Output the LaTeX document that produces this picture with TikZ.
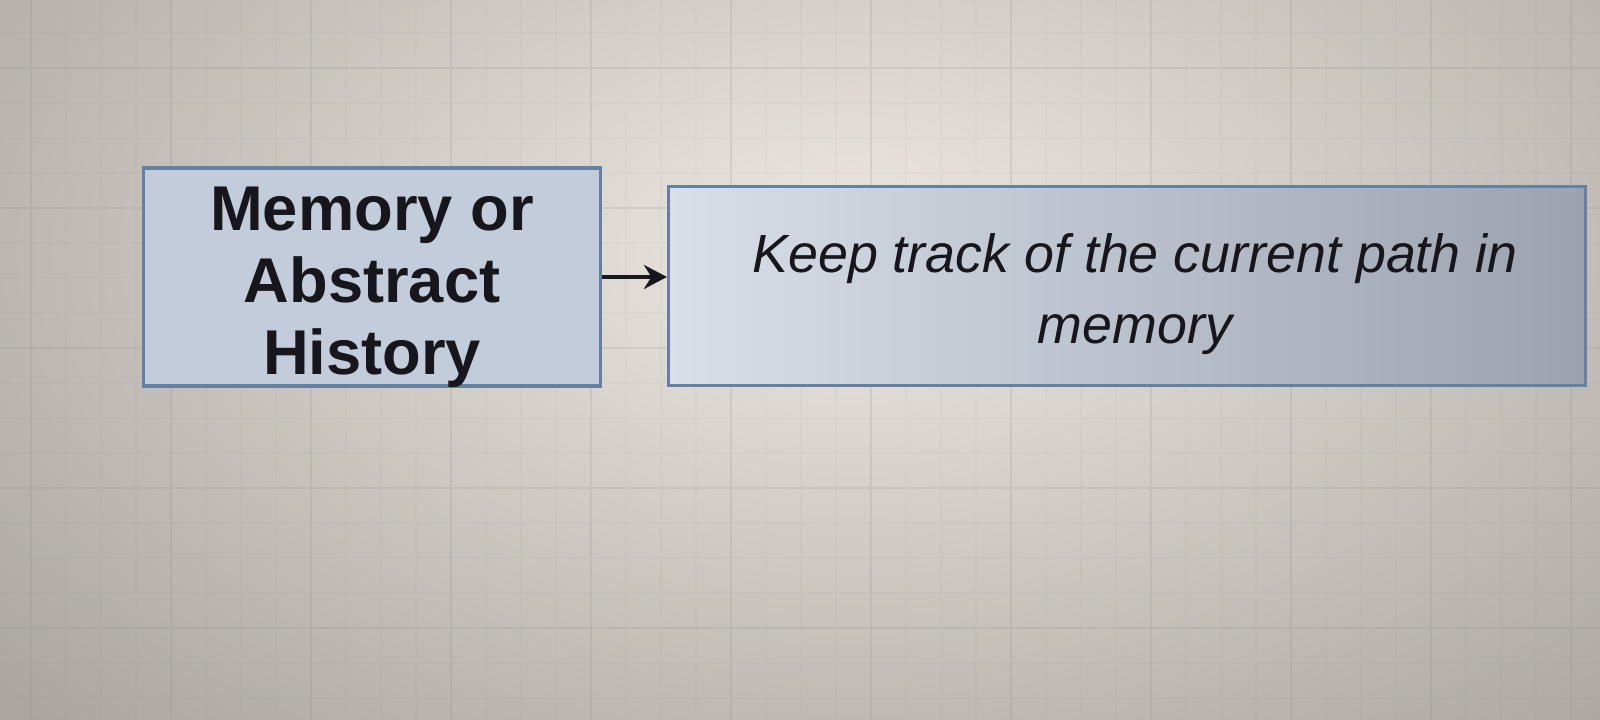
\documentclass[tikz,border=0pt]{standalone}
\usepackage{fontspec}
\setmainfont{Liberation Sans}
\usepackage{tikz}
\usetikzlibrary{positioning,arrows.meta}
\definecolor{bglight}{RGB}{238,232,224}
\definecolor{bgdark}{RGB}{170,165,161}
\definecolor{gridgrey}{RGB}{140,138,135}
\definecolor{boxblue}{RGB}{194,204,218}
\definecolor{boxlight}{RGB}{216,223,232}
\definecolor{boxmid}{RGB}{198,206,216}
\definecolor{boxshade}{RGB}{156,163,175}
\definecolor{edgeblue}{RGB}{100,128,165}
\definecolor{inkblack}{RGB}{22,22,28}

\begin{document}
\begin{tikzpicture}[
  box/.style={draw=edgeblue, line width=0.9pt, fill=boxblue, inner sep=0pt},
  boxtext/.style={text=inkblack, align=center, inner sep=0pt},
]
\useasboundingbox (0,0) rectangle (16,7.2);
% canvas
\begin{scope}
\clip (0,0) rectangle (16,7.2);
\shade[inner color=bglight, outer color=bgdark] (-3,-2) rectangle (20,11.4);
\draw[gridgrey, opacity=0.05, step=0.35, xshift=0.31cm, yshift=0.92cm] (-1,-1) grid (17,8);
\draw[gridgrey, opacity=0.12, step=1.4, xshift=0.31cm, yshift=0.92cm] (-1,-1) grid (17,8);
\end{scope}
% boxes
\node[box, minimum width=4.57cm, minimum height=2.18cm] (memory) at (3.72,4.43) {};
\node[boxtext, font=\bfseries\fontsize{18}{20.5}\selectfont] (memorytext)
  at ([yshift=-0.1cm]memory.center) {Memory or\\Abstract\\History};
\node[box, minimum width=9.17cm, minimum height=1.99cm, left color=boxlight, middle color=boxmid,
  right color=boxshade] (track) at (11.27,4.34) {};
\node[boxtext, font=\itshape\fontsize{15.3}{20}\selectfont] (tracktext)
  at ([xshift=0.08cm,yshift=-0.08cm]track.center) {Keep track of the current path in\\memory};
\draw[-{Stealth[length=2.3mm,width=2.4mm]}, line width=1pt, inkblack] (memory.east) -- (memory.east -| track.west);
\end{tikzpicture}
\end{document}
